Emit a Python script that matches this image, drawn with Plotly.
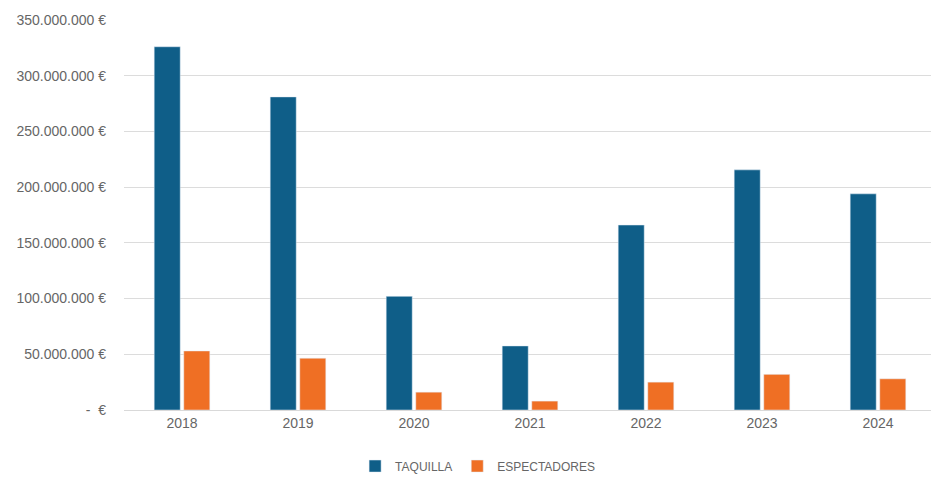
import plotly.graph_objects as go

years = ["2018", "2019", "2020", "2021", "2022", "2023", "2024"]
taquilla = [326e6, 281e6, 102e6, 57.5e6, 166e6, 215.5e6, 194e6]
espectadores = [53e6, 46.5e6, 16e6, 8e6, 25e6, 32e6, 28e6]
tick_vals = [0, 50e6, 100e6, 150e6, 200e6, 250e6, 300e6, 350e6]
tick_text = [" -  €", "50.000.000 €", "100.000.000 €", "150.000.000 €",
             "200.000.000 €", "250.000.000 €", "300.000.000 €", "350.000.000 €"]

fig = go.Figure()
fig.add_trace(go.Bar(x=years, y=taquilla, name="TAQUILLA", marker_color="#0f5e88"))
fig.add_trace(go.Bar(x=years, y=espectadores, name="ESPECTADORES", marker_color="#ef6f24"))

fig.update_layout(
    width=931, height=478,
    margin=dict(l=124, r=0, t=20, b=68),
    paper_bgcolor="white", plot_bgcolor="white",
    barmode="group", bargap=0.49, bargroupgap=0.12,
    font=dict(family="Liberation Sans, Arial", size=13, color="#666666"),
    legend=dict(orientation="h", xref="container", yref="container",
                x=0.513, xanchor="center", y=0.025, yanchor="middle",
                font=dict(size=12, color="#666666"), itemwidth=30),
    xaxis=dict(showgrid=False, showline=True, linecolor="#d9d9d9", ticks="",
               tickfont=dict(size=14), range=[-0.5, 6.457]),
    yaxis=dict(range=[0, 350e6], tickvals=tick_vals, ticktext=tick_text,
               showgrid=True, gridcolor="#dcdcdc", zeroline=False,
               ticks="", ticklabelstandoff=17, tickfont=dict(size=14)),
)

fig.write_html("out.html")
